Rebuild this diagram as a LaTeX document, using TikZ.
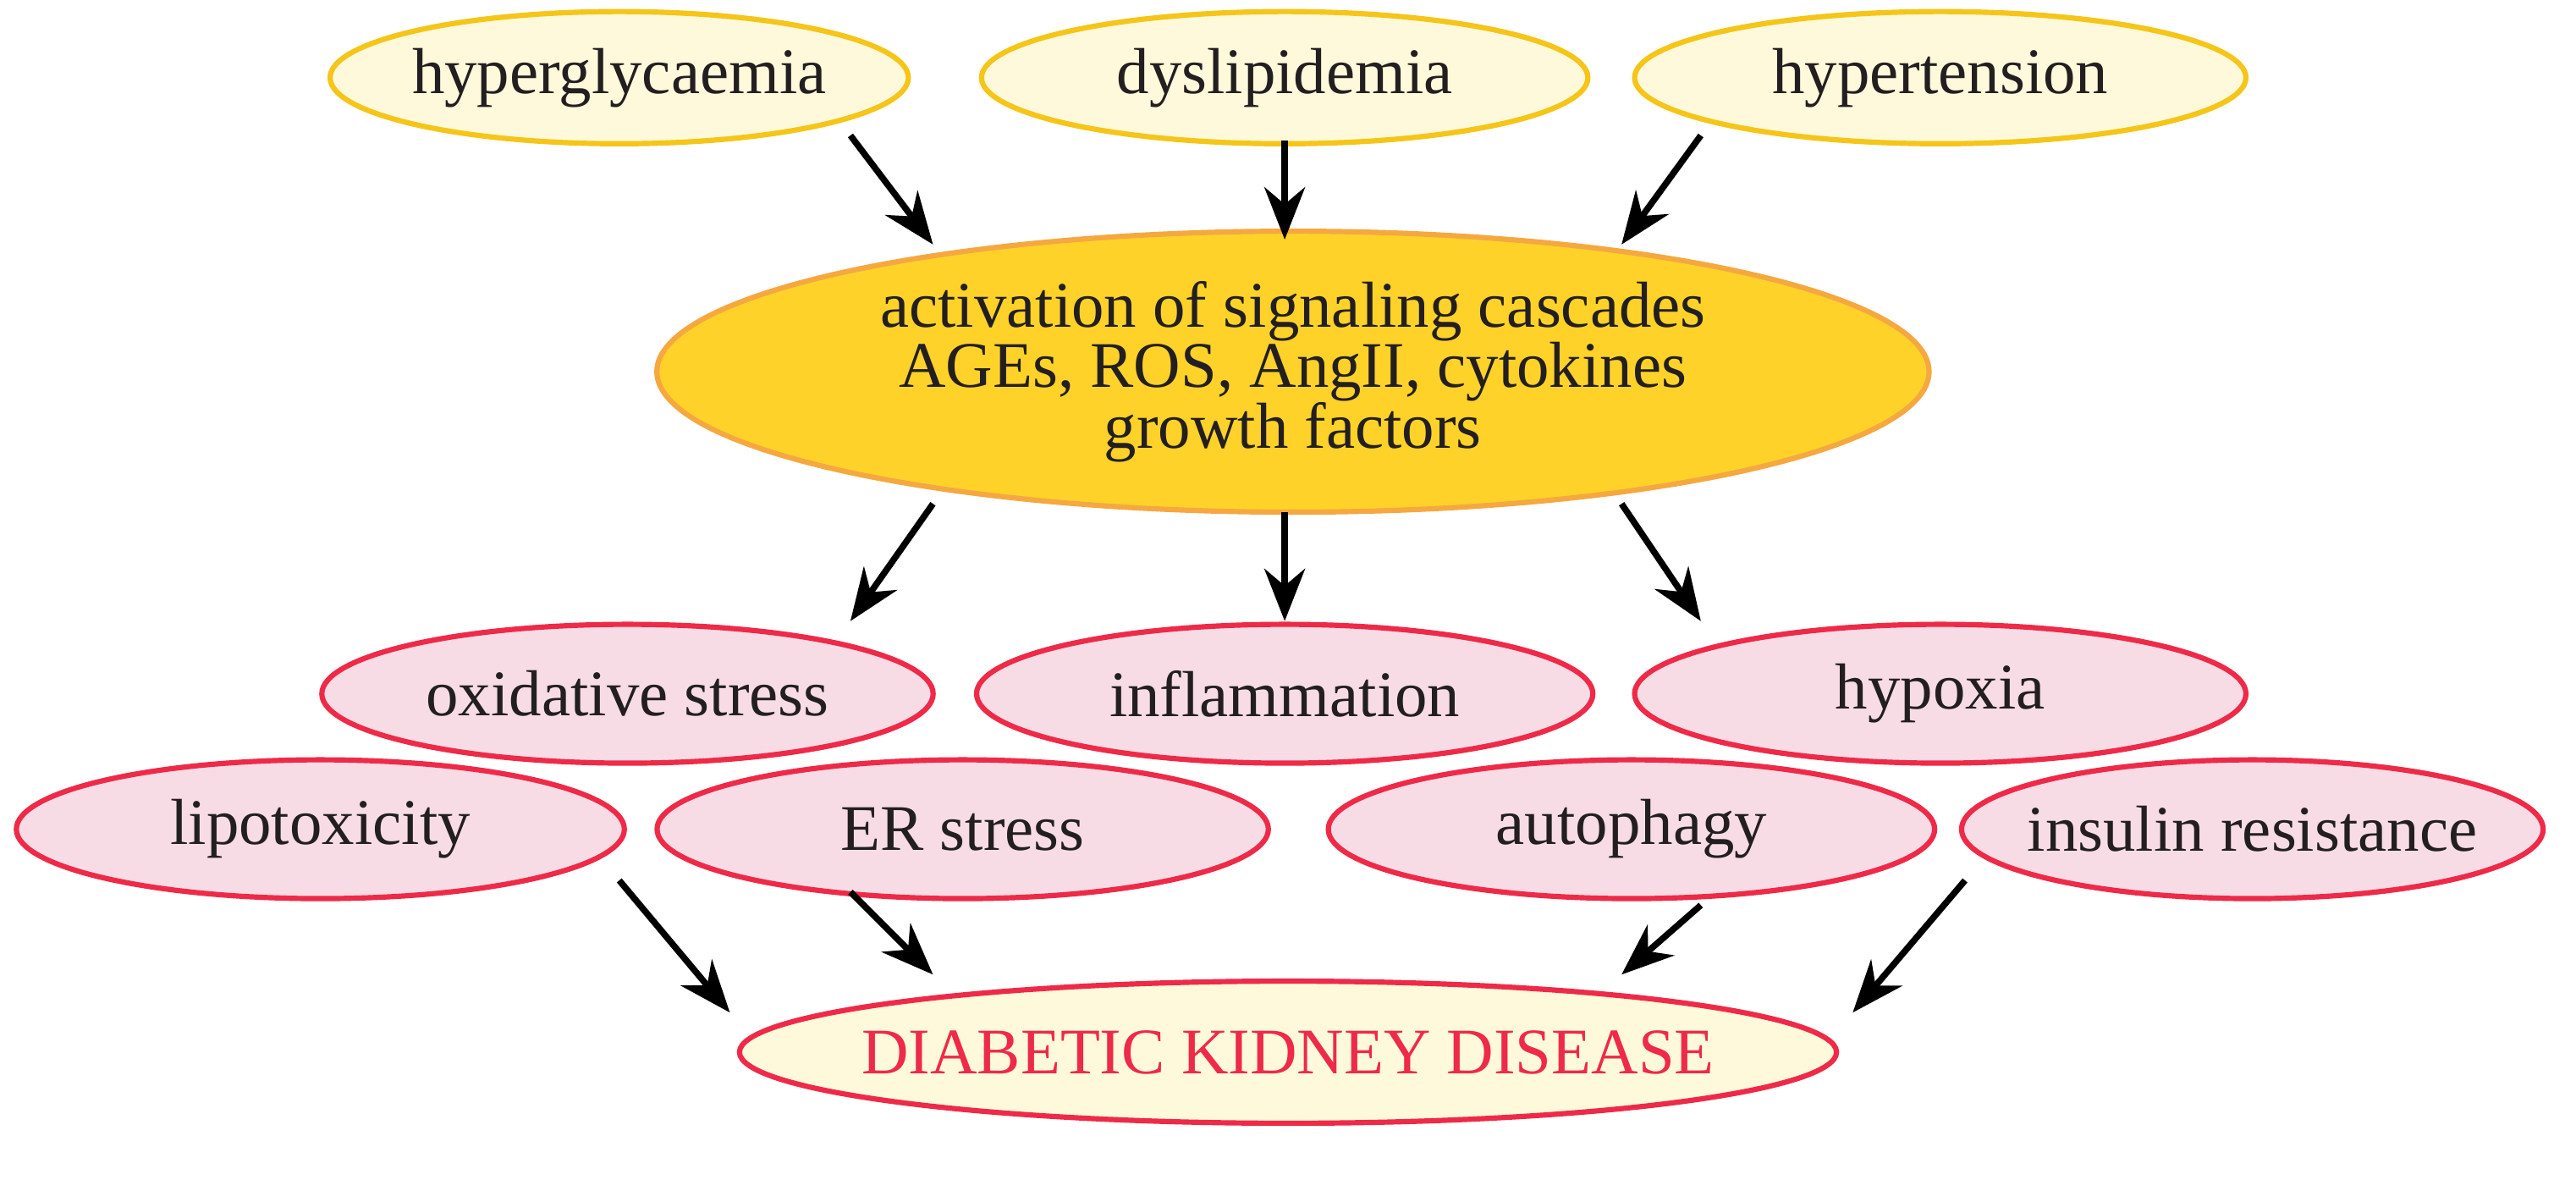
\documentclass[tikz,border=0pt]{standalone}
\usepackage{fontspec}
\setmainfont{Liberation Serif}
\usetikzlibrary{arrows.meta,shapes.geometric}
\definecolor{ylfill}{HTML}{FFF9DC}
\definecolor{ylline}{HTML}{F5C518}
\definecolor{bigfill}{HTML}{FFD22A}
\definecolor{bigline}{HTML}{F5A840}
\definecolor{pkfill}{HTML}{F8DCE5}
\definecolor{redl}{HTML}{EE2A48}
\definecolor{txt}{HTML}{231F20}
\begin{document}
\begin{tikzpicture}[x=0.01cm,y=-0.01cm,
  base/.style={ellipse,inner xsep=-1cm,inner ysep=-0.3cm,line width=0.9pt,text=txt,font=\fontsize{11.2}{10.4}\selectfont,align=center},
  yel/.style={base,draw=ylline,fill=ylfill},
  big/.style={base,draw=bigline,fill=bigfill},
  pk/.style={base,draw=redl,fill=pkfill},
  dkd/.style={base,draw=redl,fill=ylfill,text=redl},
  arr/.style={-{Stealth[length=9pt,width=7pt]},line width=1.1pt,black}]
\useasboundingbox (0,0) rectangle (1560,714);
\node[yel,minimum width=3.5cm,minimum height=0.8cm] (h1) at (375,47) {hyperglycaemia};
\node[yel,minimum width=3.67cm,minimum height=0.8cm] (h2) at (778,47) {dyslipidemia};
\node[yel,minimum width=3.7cm,minimum height=0.8cm] (h3) at (1175,47) {hypertension};
\node[big,minimum width=7.7cm,minimum height=1.7cm] (c) at (783,225) {activation of signaling cascades\\AGEs, ROS, AngII, cytokines\\growth factors};
\node[pk,minimum width=3.7cm,minimum height=0.84cm] (o1) at (380,420) {oxidative stress};
\node[pk,minimum width=3.73cm,minimum height=0.84cm] (o2) at (778,420) {inflammation};
\node[pk,minimum width=3.7cm,minimum height=0.84cm] (o3) at (1175,420) {hypoxia};
\node[pk,minimum width=3.68cm,minimum height=0.84cm] (l1) at (194,502) {lipotoxicity};
\node[pk,minimum width=3.7cm,minimum height=0.84cm] (l2) at (583,502) {ER stress};
\node[pk,minimum width=3.67cm,minimum height=0.84cm] (l3) at (988,502) {autophagy};
\node[pk,minimum width=3.52cm,minimum height=0.84cm] (l4) at (1364,502) {insulin resistance};
\node[dkd,minimum width=6.64cm,minimum height=0.86cm] (d) at (780,637) {DIABETIC KIDNEY DISEASE};
\coordinate (a1) at (515,82); \coordinate (b1) at (565,148);
\coordinate (a2) at (778,85); \coordinate (b2) at (778,145);
\coordinate (a3) at (1030,82); \coordinate (b3) at (982,148);
\coordinate (a4) at (565,305); \coordinate (b4) at (515,376);
\coordinate (a5) at (778,310); \coordinate (b5) at (778,376);
\coordinate (a6) at (982,305); \coordinate (b6) at (1030,376);
\coordinate (a7) at (375,533); \coordinate (b7) at (442,613);
\coordinate (a8) at (515,540); \coordinate (b8) at (565,590);
\coordinate (a9) at (1030,548); \coordinate (b9) at (982,590);
\coordinate (a10) at (1190,533); \coordinate (b10) at (1122,613);
\foreach \i in {1,...,10} \draw[arr] (a\i) -- (b\i);
\end{tikzpicture}
\end{document}
